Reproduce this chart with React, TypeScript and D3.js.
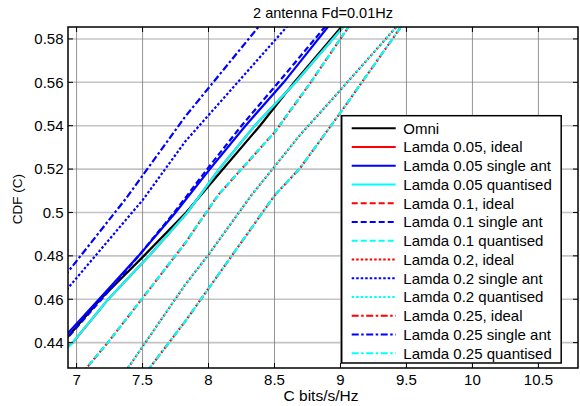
import React, { useRef, useEffect } from "react";
import * as d3 from "d3";

// axis limits and ticks
const xLimits = [6.935, 10.8];
const yLimits = [0.4283, 0.5855];
const xTicks = [7, 7.5, 8, 8.5, 9, 9.5, 10, 10.5];
const yTicks = [0.44, 0.46, 0.48, 0.5, 0.52, 0.54, 0.56, 0.58];

// Omni
const omniC = [6.9, 6.936, 7.18, 7.51, 7.83, 8.11, 8.39, 8.65, 9.055];
const omniCdf = [0.4405, 0.4428, 0.46, 0.48, 0.5, 0.52, 0.54, 0.56, 0.589];

// Lamda 0.05
const l005IdealC = [6.9, 6.97, 7.24, 7.55, 7.84, 8.08, 8.35, 8.66, 9.07];
const l005IdealCdf = [0.4365, 0.44, 0.46, 0.48, 0.5, 0.52, 0.54, 0.56, 0.589];
const l005SingleC = [6.9, 6.936, 7.17, 7.47, 7.75, 8.01, 8.28, 8.57, 8.95];
const l005SingleCdf = [0.4425, 0.4445, 0.46, 0.48, 0.5, 0.52, 0.54, 0.56, 0.589];
const l005QuantC = [6.9, 6.97, 7.24, 7.55, 7.84, 8.08, 8.35, 8.66, 9.07];
const l005QuantCdf = [0.4355, 0.44, 0.46, 0.48, 0.5, 0.52, 0.54, 0.56, 0.589];

// Lamda 0.1
const l01IdealC = [7.05, 7.237, 7.5, 7.822, 8.074, 8.504, 8.769, 9.1];
const l01IdealCdf = [0.4265, 0.44, 0.4605, 0.4858, 0.5081, 0.5372, 0.5595, 0.589];
const l01SingleC = [6.9, 6.936, 7.19, 7.47, 7.74, 7.99, 8.25, 8.53, 8.93];
const l01SingleCdf = [0.44, 0.4425, 0.46, 0.48, 0.5, 0.52, 0.54, 0.56, 0.589];
const l01QuantC = [7.05, 7.237, 7.5, 7.822, 8.074, 8.504, 8.769, 9.1];
const l01QuantCdf = [0.4265, 0.44, 0.4605, 0.4858, 0.5081, 0.5372, 0.5595, 0.589];

// Lamda 0.2
const l02IdealC = [7.37, 7.388, 7.521, 7.822, 7.998, 8.327, 8.693, 8.933, 9.436, 9.47];
const l02IdealCdf = [0.427, 0.4282, 0.44, 0.4666, 0.4804, 0.5081, 0.5357, 0.5519, 0.5864, 0.589];
const l02SingleC = [6.9, 6.936, 7.502, 7.822, 8.605, 8.64];
const l02SingleCdf = [0.463, 0.4652, 0.5058, 0.5326, 0.5864, 0.589];
const l02QuantC = [7.37, 7.388, 7.521, 7.822, 7.998, 8.327, 8.693, 8.933, 9.436, 9.47];
const l02QuantCdf = [0.427, 0.4282, 0.44, 0.4666, 0.4804, 0.5081, 0.5357, 0.5519, 0.5864, 0.589];

// Lamda 0.25
const l025IdealC = [7.54, 7.552, 7.7, 7.822, 8.504, 8.693, 8.996, 9.466, 9.5];
const l025IdealCdf = [0.427, 0.4282, 0.44, 0.4497, 0.5081, 0.5204, 0.5457, 0.5862, 0.589];
const l025SingleC = [6.9, 6.936, 7.375, 7.822, 8.39, 8.43];
const l025SingleCdf = [0.4705, 0.4727, 0.5065, 0.5441, 0.5864, 0.589];
const l025QuantC = [7.54, 7.552, 7.7, 7.822, 8.504, 8.693, 8.996, 9.466, 9.5];
const l025QuantCdf = [0.427, 0.4282, 0.44, 0.4497, 0.5081, 0.5204, 0.5457, 0.5862, 0.589];

const seriesNames = [
  "Omni",
  "Lamda 0.05, ideal", "Lamda 0.05 single ant", "Lamda 0.05 quantised",
  "Lamda 0.1, ideal", "Lamda 0.1 single ant", "Lamda 0.1 quantised",
  "Lamda 0.2, ideal", "Lamda 0.2 single ant", "Lamda 0.2 quantised",
  "Lamda 0.25, ideal", "Lamda 0.25 single ant", "Lamda 0.25 quantised",
];

const seriesData = [
  [omniC, omniCdf],
  [l005IdealC, l005IdealCdf], [l005SingleC, l005SingleCdf], [l005QuantC, l005QuantCdf],
  [l01IdealC, l01IdealCdf], [l01SingleC, l01SingleCdf], [l01QuantC, l01QuantCdf],
  [l02IdealC, l02IdealCdf], [l02SingleC, l02SingleCdf], [l02QuantC, l02QuantCdf],
  [l025IdealC, l025IdealCdf], [l025SingleC, l025SingleCdf], [l025QuantC, l025QuantCdf],
];

const kindColor = { omni: "#000000", ideal: "#ff0000", single: "#0000ff", quant: "#00ffff" };
const dashByLamda = ["", "6,3", "2.5,2", "7,2.5,2.5,2.5"];
const offsetByLamda = [0, 1.5, 1, 1.5];

const FONT = "'Liberation Sans', Arial, Helvetica, sans-serif";

export default function App() {
  const svgRef = useRef<SVGSVGElement>(null);
  const width = 580;
  const height = 406;
  const plot = { left: 68, right: 578, top: 27, bottom: 368 };

  useEffect(() => {
    const svg = d3.select(svgRef.current);
    svg.selectAll("*").remove();

    const x = d3.scaleLinear().domain(xLimits).range([plot.left, plot.right]);
    const y = d3.scaleLinear().domain(yLimits).range([plot.bottom, plot.top]);

    svg.append("rect").attr("width", width).attr("height", height).attr("fill", "#fff");

    svg.append("defs").append("clipPath").attr("id", "plotclip")
      .append("rect")
      .attr("x", plot.left).attr("y", plot.top)
      .attr("width", plot.right - plot.left).attr("height", plot.bottom - plot.top);

    // grid
    const grid = svg.append("g");
    yTicks.forEach(t => {
      grid.append("line")
        .attr("x1", plot.left).attr("x2", plot.right)
        .attr("y1", y(t)).attr("y2", y(t))
        .attr("stroke", "#c4c4c4").attr("stroke-width", 1.6);
    });
    xTicks.forEach(t => {
      grid.append("line")
        .attr("x1", x(t)).attr("x2", x(t))
        .attr("y1", plot.top).attr("y2", plot.bottom)
        .attr("stroke", "#7a7a7a").attr("stroke-width", 0.8);
    });

    // series
    const series = seriesNames.map((name, i) => {
      const lamda = i === 0 ? 0 : Math.floor((i - 1) / 3);
      const kind = i === 0 ? "omni" : ["ideal", "single", "quant"][(i - 1) % 3];
      return {
        name,
        c: seriesData[i][0],
        cdf: seriesData[i][1],
        color: kindColor[kind],
        dash: i === 0 ? "" : dashByLamda[lamda],
        offset: kind === "ideal" ? offsetByLamda[lamda] : 0,
      };
    });

    const line = d3.line<number>()
      .x(d => d[0])
      .y(d => d[1]);

    const lines = svg.append("g").attr("clip-path", "url(#plotclip)");
    series.forEach(s => {
      const pts = s.c.map((c, j) => [x(c), y(s.cdf[j])]);
      lines.append("path")
        .attr("d", line(pts as any))
        .attr("fill", "none")
        .attr("stroke", s.color)
        .attr("stroke-width", 2.2)
        .attr("stroke-dasharray", s.dash || null)
        .attr("stroke-dashoffset", s.offset);
    });

    // box and ticks
    const axes = svg.append("g").attr("stroke", "#000");
    axes.append("rect")
      .attr("x", plot.left).attr("y", plot.top)
      .attr("width", plot.right - plot.left).attr("height", plot.bottom - plot.top)
      .attr("fill", "none").attr("stroke-width", 1.5);
    xTicks.forEach(t => {
      axes.append("line").attr("x1", x(t)).attr("x2", x(t))
        .attr("y1", plot.bottom).attr("y2", plot.bottom - 5).attr("stroke-width", 1);
      axes.append("line").attr("x1", x(t)).attr("x2", x(t))
        .attr("y1", plot.top).attr("y2", plot.top + 5).attr("stroke-width", 1);
    });
    yTicks.forEach(t => {
      axes.append("line").attr("x1", plot.left).attr("x2", plot.left + 5)
        .attr("y1", y(t)).attr("y2", y(t)).attr("stroke-width", 1);
      axes.append("line").attr("x1", plot.right).attr("x2", plot.right - 5)
        .attr("y1", y(t)).attr("y2", y(t)).attr("stroke-width", 1);
    });

    // tick labels
    const labels = svg.append("g").attr("font-family", FONT).attr("fill", "#000");
    xTicks.forEach(t => {
      labels.append("text")
        .attr("x", x(t)).attr("y", 385)
        .attr("text-anchor", "middle").attr("font-size", 15)
        .text(d3.format("~g")(t));
    });
    yTicks.forEach(t => {
      labels.append("text")
        .attr("x", 63.5).attr("y", y(t)).attr("dy", "0.36em")
        .attr("text-anchor", "end").attr("font-size", 15)
        .text(d3.format("~g")(t));
    });

    labels.append("text")
      .attr("x", (plot.left + plot.right) / 2).attr("y", 18)
      .attr("text-anchor", "middle").attr("font-size", 14.5)
      .text("2 antenna Fd=0.01Hz");
    labels.append("text")
      .attr("x", (plot.left + plot.right) / 2 - 2).attr("y", 401)
      .attr("text-anchor", "middle").attr("font-size", 15.5)
      .text("C bits/s/Hz");
    labels.append("text")
      .attr("transform", "translate(22,199) rotate(-90)")
      .attr("text-anchor", "middle").attr("font-size", 13.5)
      .text("CDF (C)");

    // legend
    const lg = svg.append("g").attr("transform", "translate(341.7,115.7)");
    lg.append("rect")
      .attr("width", 219.5).attr("height", 247.3)
      .attr("fill", "#fff").attr("stroke", "#000").attr("stroke-width", 1.5);
    series.forEach((s, i) => {
      const ry = 12.6 + i * 18.75;
      lg.append("line")
        .attr("x1", 10).attr("x2", 54)
        .attr("y1", ry).attr("y2", ry)
        .attr("stroke", s.color).attr("stroke-width", 2)
        .attr("stroke-dasharray", s.dash || null);
      lg.append("text")
        .attr("x", 61.6).attr("y", ry).attr("dy", "0.36em")
        .attr("font-family", FONT).attr("font-size", 15)
        .text(s.name);
    });
  }, []);

  return (
    <svg
      ref={svgRef}
      width={width}
      height={height}
      style={{ position: "absolute", left: 0, top: 0 }}
    />
  );
}
